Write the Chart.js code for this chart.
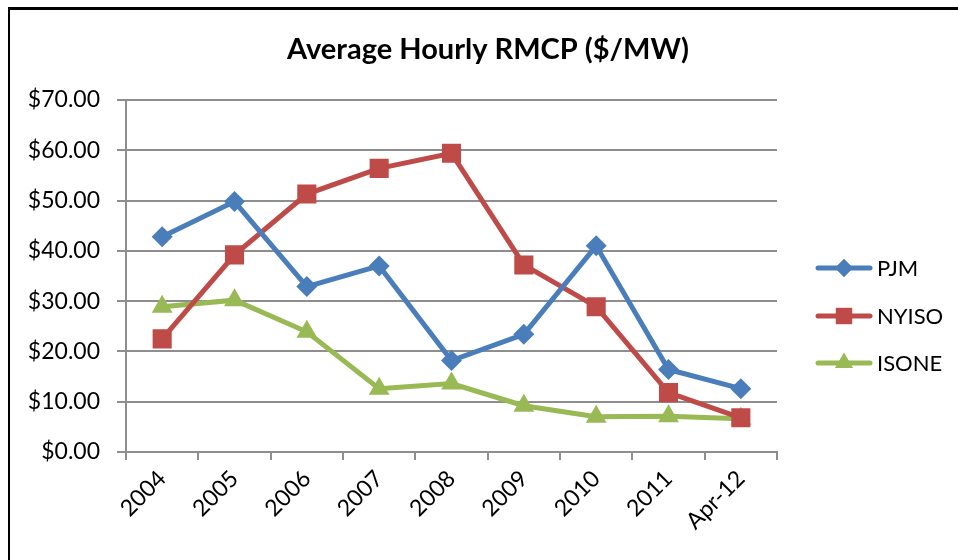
<!DOCTYPE html>
<html>
<head>
<meta charset="utf-8">
<script src="https://cdn.jsdelivr.net/npm/chart.js@4"></script>
<style>
  html, body { margin: 0; padding: 0; background: #fff; }
  #wrap { position: relative; width: 958px; height: 560px; overflow: hidden; }
  #frame { position: absolute; left: 8px; top: 7px; width: 1000px; height: 600px;
           border-left: 2px solid #000; border-top: 3px solid #000; pointer-events: none; }
  canvas { position: absolute; left: 0; top: 0; }
</style>
</head>
<body>
<div id="wrap">
  <canvas id="rmcp" width="958" height="560"></canvas>
  <div id="frame"></div>
</div>
<script>
// data
const years  = ['2004', '2005', '2006', '2007', '2008', '2009', '2010', '2011', 'Apr-12'];
const pjm    = [42.8, 49.8, 32.9, 37.0, 18.2, 23.4, 41.0, 16.4, 12.6];
const nyiso  = [22.5, 39.2, 51.3, 56.4, 59.4, 37.2, 28.9, 11.8, 6.8];
const isone  = [28.9, 30.2, 23.9, 12.6, 13.6, 9.2, 7.0, 7.1, 6.6];
const yTicks = [0, 10, 20, 30, 40, 50, 60, 70];
const title  = 'Average Hourly RMCP ($/MW)';

const C = {
  pjm:   '#4A7EBB',
  nyiso: '#BE4B48',
  isone: '#98B954',
  grid:  '#8e8e8e',
  text:  '#000',
};
const font = "Lato, 'Open Sans', sans-serif";

const series = [
  { label: 'PJM',   data: pjm,   color: C.pjm,   style: 'rectRot',  r: 10.5 },
  { label: 'NYISO', data: nyiso, color: C.nyiso, style: 'rect',     r: 13.5 },
  { label: 'ISONE', data: isone, color: C.isone, style: 'triangle', r: 12 },
];

// title + legend drawn by hand (Excel puts the title over the whole frame, legend at right)
const sideBits = {
  id: 'sideBits',
  afterDraw(chart) {
    const ctx = chart.ctx;
    ctx.save();
    ctx.fillStyle = C.text;
    ctx.font = `bold 29px ${font}`;
    ctx.textAlign = 'center';
    ctx.textBaseline = 'middle';
    ctx.fillText(title, 488, 50);

    const rows = [268, 316, 363];
    series.forEach((s, i) => {
      const y = rows[i];
      ctx.strokeStyle = s.color;
      ctx.lineWidth = 5;
      ctx.lineCap = 'round';
      ctx.beginPath(); ctx.moveTo(818, y); ctx.lineTo(870, y); ctx.stroke();
      ctx.fillStyle = s.color;
      Chart.helpers.drawPoint(ctx, { pointStyle: s.style, radius: s.r * 0.85, borderWidth: 0 }, 844, y);
      ctx.fill();
      ctx.fillStyle = C.text;
      ctx.font = `22px ${font}`;
      ctx.textAlign = 'left';
      ctx.textBaseline = 'middle';
      ctx.fillText(s.label, 877, y + 1);
    });
    ctx.restore();
  },
};

new Chart(document.getElementById('rmcp'), {
  type: 'line',
  data: {
    labels: years,
    datasets: series.map(s => ({
      label: s.label,
      data: s.data,
      borderColor: s.color,
      backgroundColor: s.color,
      borderWidth: 5,
      pointStyle: s.style,
      pointRadius: s.r,
      pointBorderWidth: 0,
      tension: 0,
    })),
  },
  options: {
    responsive: false,
    animation: false,
    events: [],
    layout: { padding: { top: 100, right: 181, bottom: 0, left: 0 } },
    plugins: {
      legend: { display: false },
      tooltip: { enabled: false },
      title: { display: false },
    },
    scales: {
      x: {
        offset: true,
        grid: { offset: true, drawOnChartArea: false, drawTicks: true, tickLength: 8, color: C.grid, lineWidth: 2 },
        border: { color: C.grid, width: 2 },
        ticks: { color: C.text, font: { family: font, size: 23 }, minRotation: 45, maxRotation: 45, padding: 5 },
        afterFit: s => { s.height = 108; },
      },
      y: {
        min: 0, max: 70,
        afterBuildTicks: s => { s.ticks = yTicks.map(v => ({ value: v })); },
        grid: { color: C.grid, lineWidth: 2, tickLength: 9 },
        border: { color: C.grid, width: 2 },
        ticks: {
          color: C.text, font: { family: font, size: 23 }, padding: 17,
          callback: v => '$' + v.toFixed(2),
        },
        afterFit: s => { s.width = 126; },
      },
    },
  },
  plugins: [sideBits],
});
</script>
</body>
</html>
